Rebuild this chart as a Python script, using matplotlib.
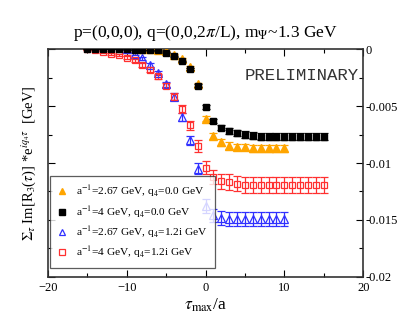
import numpy as np
import matplotlib
matplotlib.use("Agg")
import matplotlib.pyplot as plt
from matplotlib.lines import Line2D
from matplotlib.ticker import MultipleLocator

plt.rcParams['font.family'] = ['Liberation Serif', 'DejaVu Serif']
plt.rcParams['mathtext.fontset'] = 'stix'

# a^-1 = 4 GeV ensembles
tau_a4 = list(range(-15, 16))
black_y = [0.0, 0.0, 0.0, 0.0, -0.00002, -0.00003, -0.00005, -0.00008, -0.00012,
           -0.0001, -0.00033, -0.00063, -0.00107, -0.00177, -0.0032, -0.0051,
           -0.0063, -0.0069, -0.0072, -0.0074, -0.0075, -0.0076, -0.0077, -0.0077,
           -0.0077, -0.0077, -0.0077, -0.0077, -0.0077, -0.0077, -0.0077]
black_err = [0.00001, 0.00001, 0.00001, 0.00001, 0.00001, 0.00002, 0.00002, 0.00002,
             0.00003, 0.00003, 0.00004, 0.00005, 0.00006, 0.00008, 0.0001, 0.00015,
             0.0002, 0.00022, 0.00025, 0.00027, 0.0003, 0.0003, 0.0003, 0.0003,
             0.0003, 0.0003, 0.0003, 0.0003, 0.0003, 0.0003, 0.0003]
red_y = [-0.00002, -0.00005, -0.00025, -0.0004, -0.00055, -0.00075, -0.001, -0.0014,
         -0.0018, -0.0024, -0.0032, -0.0042, -0.0053, -0.0067, -0.0085, -0.0104,
         -0.0112, -0.0116, -0.0117, -0.0118, -0.0119, -0.0119, -0.0119, -0.0119,
         -0.0119, -0.0119, -0.0119, -0.0119, -0.0119, -0.0119, -0.0119]
red_err = [0.00003, 0.00005, 0.00007, 0.00008, 0.0001, 0.00012, 0.00014, 0.00016,
           0.0002, 0.00022, 0.00025, 0.0003, 0.00035, 0.0004, 0.0005, 0.0006,
           0.0006, 0.00065, 0.0007, 0.0007, 0.0007, 0.0007, 0.0007, 0.0007,
           0.0007, 0.0007, 0.0007, 0.0007, 0.0007, 0.0007, 0.0007]

# a^-1 = 2.67 GeV ensembles
tau_a267 = list(range(-10, 11))
orange_y = [-0.00001, -0.00001, -0.00002, -0.00003, -0.00005, -0.0002, -0.0005,
            -0.0009, -0.0016, -0.0031, -0.0061, -0.0076, -0.0082, -0.0085, -0.0086,
            -0.0086, -0.0087, -0.0087, -0.0087, -0.0087, -0.0087]
orange_err = [0.00001, 0.00001, 0.00002, 0.00002, 0.00003, 0.00004, 0.00006, 0.00008,
              0.0001, 0.00015, 0.0002, 0.00025, 0.0003, 0.0003, 0.0003, 0.0003,
              0.0003, 0.0003, 0.0003, 0.0003, 0.0003]
blue_y = [-0.00002, -0.0004, -0.0008, -0.0014, -0.0021, -0.0031, -0.0042, -0.006,
          -0.0080, -0.0105, -0.0138, -0.0146, -0.01485, -0.0149, -0.0149, -0.0149,
          -0.0149, -0.0149, -0.0149, -0.0149, -0.0149]
blue_err = [0.00005, 0.0001, 0.00012, 0.00015, 0.0002, 0.00025, 0.0003, 0.00035,
            0.0004, 0.0005, 0.0006, 0.0006, 0.0006, 0.0006, 0.0006, 0.0006,
            0.0006, 0.0006, 0.0006, 0.0006, 0.0006]

labels = [r'a$^{-1}$=2.67 GeV, q$_4$=0.0 GeV',
          r'a$^{-1}$=4 GeV, q$_4$=0.0 GeV',
          r'a$^{-1}$=2.67 GeV, q$_4$=1.2i GeV',
          r'a$^{-1}$=4 GeV, q$_4$=1.2i GeV']

orange = '#ffa500'
blue = '#3030ff'
red = '#ff3030'

fig = plt.figure(figsize=(4.09, 3.27), dpi=100)
ax = fig.add_axes([0.117, 0.153, 0.771, 0.697])

ekw = dict(linestyle='none', capsize=3, elinewidth=0.9, capthick=0.9)
ax.errorbar(tau_a267, orange_y, yerr=orange_err, fmt='^', color=orange,
            ms=5.5, zorder=3, **ekw)
ax.errorbar(tau_a4, black_y, yerr=black_err, fmt='s', color='black',
            ms=5, zorder=4, **ekw)
ax.errorbar(tau_a267, blue_y, yerr=blue_err, fmt='^', color=blue,
            mfc='none', ms=5.5, mew=0.9, zorder=3, **ekw)
ax.errorbar(tau_a4, red_y, yerr=red_err, fmt='s', color=red,
            mfc='none', ms=5, mew=0.9, zorder=3, **ekw)

ax.set_xlim(-20, 20)
ax.set_ylim(-0.02, 0)
ax.xaxis.set_major_locator(MultipleLocator(10))
ax.xaxis.set_minor_locator(MultipleLocator(5))
ax.yaxis.set_minor_locator(MultipleLocator(0.0025))
ax.yaxis.set_ticks_position('both')
ax.xaxis.set_ticks_position('both')
ax.tick_params(which='both', direction='in', labelsize=9, width=0.8)
ax.tick_params(which='major', length=5)
ax.tick_params(which='minor', length=3)
ax.tick_params(axis='y', labelleft=False, labelright=True, pad=2)
ax.set_yticks([0, -0.005, -0.01, -0.015, -0.02])
ax.set_yticklabels(['0', '-0.005', '-0.01', '-0.015', '-0.02'])
for s in ax.spines.values():
    s.set_linewidth(1.2)
    s.set_color('#333333')

ax.set_title(r'p=(0,0,0), q=(0,0,2$\pi$/L), m$_{\Psi}$~1.3 GeV', fontsize=12.5, pad=9)
ax.set_xlabel(r'$\tau_{\rm max}$/a', fontsize=12.5, labelpad=2)
ax.set_ylabel(r'$\Sigma_\tau$ Im[R$_3$($\tau$)] *e$^{iq_4\tau}$  [GeV]', fontsize=10.5, labelpad=4)

ax.text(0.985, 0.885, 'PRELIMINARY', transform=ax.transAxes, ha='right', va='center',
        family='Liberation Mono', fontsize=12.5, color='#333333')

handles = [Line2D([], [], ls='none', marker='^', color=orange, ms=5),
           Line2D([], [], ls='none', marker='s', color='black', ms=4.5),
           Line2D([], [], ls='none', marker='^', color=blue, mfc='none', ms=5, mew=0.9),
           Line2D([], [], ls='none', marker='s', color=red, mfc='none', ms=4.5, mew=0.9)]
leg = ax.legend(handles, labels, loc='lower left', bbox_to_anchor=(0.0, 0.03), fontsize=8.2,
                frameon=True, fancybox=False, edgecolor='#333333',
                handlelength=0.8, handletextpad=0.8, labelspacing=0.4,
                borderpad=0.65, borderaxespad=0.2)
leg.get_frame().set_linewidth(0.9)
leg.set_zorder(5)

fig.savefig('out.png', dpi=100)
